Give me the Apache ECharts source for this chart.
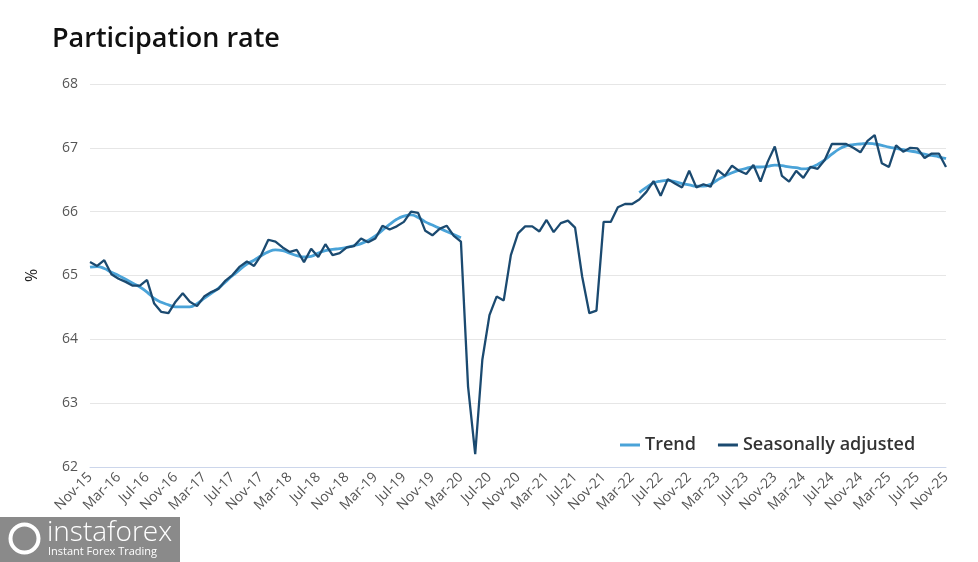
<!DOCTYPE html>
<html>
<head>
<meta charset="utf-8">
<script src="https://cdn.jsdelivr.net/npm/echarts@6/dist/echarts.min.js"></script>
<style>html,body{margin:0;padding:0;background:#fff}#c{width:978px;height:562px}</style>
</head>
<body>
<div id="c"></div>
<script>
// Months (category labels) from Nov-15 to Nov-25
var monthNames = ['Jan','Feb','Mar','Apr','May','Jun','Jul','Aug','Sep','Oct','Nov','Dec'];
var categories = [];
(function(){
  var m = 10, y = 15;
  for (var k = 0; k < 121; k++) {
    categories.push(monthNames[m] + '-' + y);
    m++; if (m > 11) { m = 0; y++; }
  }
})();

var yTicks = [62, 63, 64, 65, 66, 67, 68];

var seasonallyAdjusted = [
65.21, 65.15, 65.24, 65.02, 64.95, 64.90, 64.84, 64.84, 64.93, 64.56,
64.43, 64.41, 64.59, 64.72, 64.59, 64.52, 64.67, 64.74, 64.79, 64.92,
65.01, 65.14, 65.22, 65.15, 65.32, 65.56, 65.53, 65.44, 65.37, 65.40,
65.21, 65.42, 65.29, 65.49, 65.32, 65.35, 65.44, 65.46, 65.58, 65.52,
65.58, 65.78, 65.72, 65.77, 65.84, 66.00, 65.98, 65.70, 65.63, 65.73,
65.78, 65.62, 65.53, 63.26, 62.20, 63.68, 64.38, 64.67, 64.61, 65.32,
65.66, 65.77, 65.77, 65.69, 65.87, 65.68, 65.82, 65.86, 65.75, 64.98,
64.41, 64.45, 65.84, 65.84, 66.07, 66.12, 66.12, 66.19, 66.31, 66.48,
66.25, 66.51, 66.44, 66.38, 66.64, 66.38, 66.43, 66.39, 66.65, 66.56,
66.72, 66.64, 66.59, 66.73, 66.47, 66.78, 67.02, 66.56, 66.47, 66.64,
66.53, 66.70, 66.67, 66.81, 67.06, 67.06, 67.06, 67.00, 66.93, 67.11,
67.20, 66.76, 66.70, 67.04, 66.94, 67.00, 66.99, 66.84, 66.91, 66.91,
66.70
];

var trend = [
65.13, 65.14, 65.11, 65.05, 65.00, 64.94, 64.88, 64.82, 64.74, 64.64,
64.58, 64.54, 64.51, 64.51, 64.51, 64.56, 64.64, 64.72, 64.80, 64.90,
65.00, 65.09, 65.18, 65.24, 65.31, 65.37, 65.40, 65.39, 65.35, 65.31,
65.29, 65.30, 65.35, 65.39, 65.41, 65.42, 65.44, 65.47, 65.50, 65.55,
65.62, 65.71, 65.80, 65.88, 65.93, 65.95, 65.91, 65.84, 65.79, 65.74,
65.69, 65.64, 65.59,
null, null, null, null, null, null, null, null, null, null, null, null,
null, null, null, null, null, null, null, null, null, null, null, null,
66.30, 66.38, 66.45,
66.48, 66.49, 66.47, 66.44, 66.42, 66.40, 66.40, 66.43, 66.50, 66.56,
66.61, 66.65, 66.68, 66.70, 66.70, 66.71, 66.73, 66.72, 66.70, 66.69,
66.67, 66.69, 66.74, 66.81, 66.90, 66.98, 67.03, 67.05, 67.06, 67.07,
67.06, 67.04, 67.01, 66.99, 66.97, 66.95, 66.93, 66.90, 66.88, 66.86,
66.83
];

var FONT = 'Open Sans';
var chart = echarts.init(document.getElementById('c'), null, {renderer: 'canvas'});
chart.setOption({
  animation: false,
  backgroundColor: '#fff',
  title: {
    text: 'Participation rate',
    left: 47, top: 21,
    textStyle: {fontFamily: FONT, fontSize: 27, fontWeight: 600, color: '#111'}
  },
  legend: {
    left: 615, top: 431,
    icon: 'rect',
    itemWidth: 20, itemHeight: 3, itemGap: 22,
    textStyle: {fontFamily: FONT, fontSize: 18, fontWeight: 600, color: '#333'},
    data: ['Trend', 'Seasonally adjusted']
  },
  grid: {left: 90, right: 32, top: 84, bottom: 95, containLabel: false},
  xAxis: {
    type: 'category',
    data: categories,
    boundaryGap: false,
    axisLine: {show: true, lineStyle: {color: '#ccd6eb', width: 1}},
    axisTick: {show: false},
    axisLabel: {
      interval: 3, rotate: 45, margin: 8,
      fontFamily: FONT, fontSize: 14, color: '#555'
    },
    splitLine: {show: false}
  },
  yAxis: {
    type: 'value',
    min: yTicks[0], max: yTicks[yTicks.length - 1], interval: 1,
    name: '%', nameLocation: 'middle', nameGap: 50,
    nameTextStyle: {fontFamily: FONT, fontSize: 16, color: '#222'},
    axisLine: {show: false},
    axisTick: {show: false},
    axisLabel: {fontFamily: FONT, fontSize: 14, color: '#555', margin: 12},
    splitLine: {lineStyle: {color: '#e6e6e6', width: 1}}
  },
  series: [
    {
      name: 'Trend', type: 'line', data: trend,
      symbol: 'none', connectNulls: false, smooth: true,
      lineStyle: {color: '#4aa3d8', width: 2.8},
      itemStyle: {color: '#4aa3d8'}, z: 2
    },
    {
      name: 'Seasonally adjusted', type: 'line', data: seasonallyAdjusted,
      symbol: 'none',
      lineStyle: {color: '#1b4a70', width: 2.3},
      itemStyle: {color: '#1b4a70'}, z: 3
    }
  ],
  graphic: [
    {type: 'rect', left: 0, top: 517, z: 100, shape: {width: 180, height: 45},
     style: {fill: 'rgba(125,125,125,0.9)'}},
    {type: 'circle', left: 8, top: 522, z: 101, shape: {r: 14},
     style: {fill: 'none', stroke: '#fff', lineWidth: 4}},
    {type: 'text', left: 47, top: 519, z: 101,
     style: {text: 'instaforex', fill: '#fff', font: '300 28px "Open Sans"'}},
    {type: 'text', left: 48, top: 546, z: 101,
     style: {text: 'Instant Forex Trading', fill: '#fff', font: '11px "Open Sans"'}}
  ]
});
</script>
</body>
</html>
